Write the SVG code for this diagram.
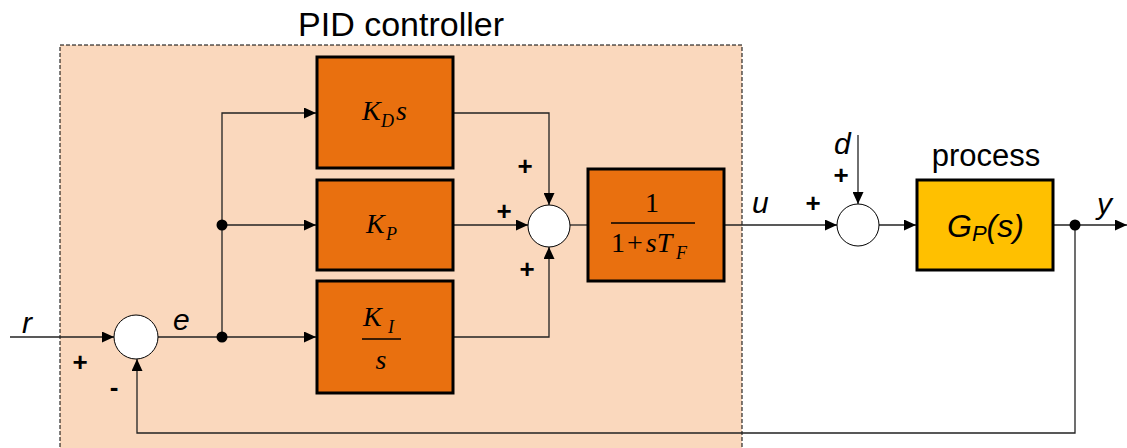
<svg xmlns="http://www.w3.org/2000/svg" width="1127" height="448" viewBox="0 0 1127 448">
<style>
.blk{fill:#E9700F;stroke:#000;stroke-width:3}
.proc{fill:#FFC000;stroke:#000;stroke-width:3}
.sum{fill:#fff;stroke:#000;stroke-width:1}
.ln{fill:none;stroke:#222;stroke-width:1.3}
.dot{fill:#000}
.lbl{font-family:"Liberation Sans",Arial,sans-serif;fill:#000}
.it{font-style:italic}
.math{font-family:"Liberation Serif","Times New Roman",serif;fill:#000}
.sign{font-family:"Liberation Sans",Arial,sans-serif;font-weight:bold;font-size:26px;fill:#000}
</style>
<defs>
<marker id="arr" markerUnits="userSpaceOnUse" markerWidth="12" markerHeight="11" refX="12" refY="5.5" orient="auto">
<path d="M0,0 L12,5.5 L0,11 z" fill="#000"/>
</marker>
</defs>
<rect x="0" y="0" width="1127" height="448" fill="#fff"/>
<g id="pid-controller">
<rect x="60" y="45" width="682" height="410" fill="#FAD8BD" stroke="#000" stroke-width="1" stroke-dasharray="4,2"/>
<text class="lbl" x="401" y="36" font-size="34" text-anchor="middle">PID controller</text>
</g>
<g id="connectors">
<path class="ln" d="M10,337 H114" marker-end="url(#arr)"/>
<path class="ln" d="M158,337 H316" marker-end="url(#arr)"/>
<path class="ln" d="M222,337 V113 H316" marker-end="url(#arr)"/>
<path class="ln" d="M222,225 H316" marker-end="url(#arr)"/>
<path class="ln" d="M454,113 H549 V205" marker-end="url(#arr)"/>
<path class="ln" d="M454,225 H528" marker-end="url(#arr)"/>
<path class="ln" d="M454,337 H549 V247" marker-end="url(#arr)"/>
<path class="ln" d="M570,225 H588"/>
<path class="ln" d="M724,225 H837" marker-end="url(#arr)"/>
<path class="ln" d="M858,135 V204" marker-end="url(#arr)" stroke="#555"/>
<path class="ln" d="M879,225 H916" marker-end="url(#arr)"/>
<path class="ln" d="M1054,225 H1127" marker-end="url(#arr)"/>
<path class="ln" d="M1075,225 V433 H137 V359" marker-end="url(#arr)"/>
<circle class="dot" cx="222" cy="225" r="5.5"/>
<circle class="dot" cx="222" cy="337" r="5.5"/>
<circle class="dot" cx="1075" cy="225" r="5.5"/>
</g>
<g id="sum-error">
<circle class="sum" cx="136" cy="337" r="22"/>
<text class="sign" x="80" y="371" text-anchor="middle">+</text>
<text class="sign" x="114" y="396" text-anchor="middle">-</text>
</g>
<g id="block-kd">
<rect class="blk" x="317" y="57" width="136" height="111"/>
<text class="math it" x="362" y="120" font-size="28">K</text>
<text class="math it" x="381" y="127" font-size="18">D</text>
<text class="math it" x="396" y="120" font-size="28">s</text>
</g>
<g id="block-kp">
<rect class="blk" x="317" y="180" width="136" height="90"/>
<text class="math it" x="366" y="233" font-size="28">K</text>
<text class="math it" x="386" y="240" font-size="18">P</text>
</g>
<g id="block-ki">
<rect class="blk" x="317" y="281" width="136" height="112"/>
<text class="math it" x="363" y="326" font-size="28">K</text>
<text class="math it" x="388" y="333" font-size="18">I</text>
<line x1="362" y1="339" x2="401" y2="339" stroke="#000" stroke-width="1.5"/>
<text class="math it" x="381" y="369" font-size="28" text-anchor="middle">s</text>
</g>
<g id="sum-pid">
<circle class="sum" cx="549" cy="226" r="21"/>
<text class="sign" x="525" y="175" text-anchor="middle">+</text>
<text class="sign" x="504" y="220" text-anchor="middle">+</text>
<text class="sign" x="527" y="278" text-anchor="middle">+</text>
</g>
<g id="block-filter">
<rect class="blk" x="588" y="169" width="136" height="112"/>
<text class="math" x="652" y="212" font-size="28" text-anchor="middle">1</text>
<line x1="611" y1="223" x2="695" y2="223" stroke="#000" stroke-width="1.5"/>
<text class="math" x="611" y="252" font-size="28">1<tspan dx="2">+</tspan><tspan class="it" dx="3">sT</tspan></text>
<text class="math it" x="676" y="259" font-size="18">F</text>
</g>
<g id="sum-disturbance">
<circle class="sum" cx="858" cy="225" r="21"/>
<text class="sign" x="813" y="212" text-anchor="middle">+</text>
<text class="sign" x="841" y="184" text-anchor="middle">+</text>
</g>
<g id="process">
<text class="lbl" x="986" y="166" font-size="31" text-anchor="middle">process</text>
<rect class="proc" x="917" y="180" width="136" height="90"/>
<text class="lbl it" x="947" y="237" font-size="32">G<tspan font-size="22" dy="4">P</tspan><tspan dy="-4">(s)</tspan></text>
</g>
<g id="signals">
<text class="lbl it" x="22" y="333" font-size="30">r</text>
<text class="lbl it" x="173" y="330" font-size="30">e</text>
<text class="lbl it" x="752" y="213" font-size="30">u</text>
<text class="lbl it" x="834" y="154" font-size="30">d</text>
<text class="lbl it" x="1097" y="214" font-size="30">y</text>
</g>
</svg>
